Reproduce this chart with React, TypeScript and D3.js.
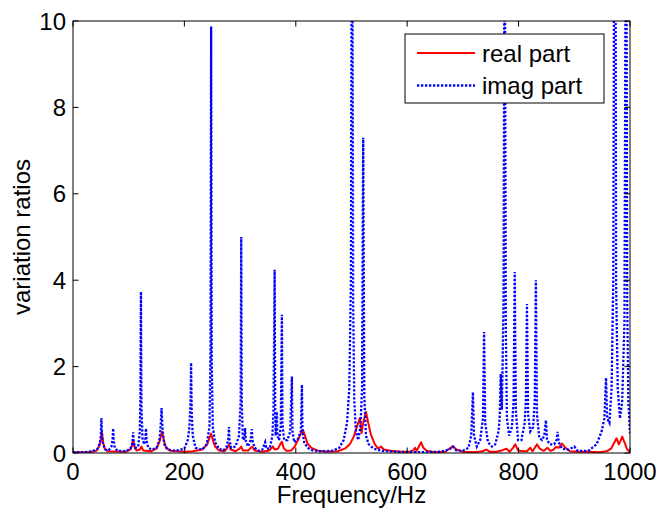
import React from 'react';
import * as d3 from 'd3';

const xTicks = [0, 200, 400, 600, 800, 1000];
const yTicks = [0, 2, 4, 6, 8, 10];
const legendLabels = ['real part', 'imag part'];
const xLabel = 'Frequency/Hz';
const yLabel = 'variation ratios';

// real part: [frequency Hz, value]
const realSeries: [number, number][] = [
  [0, 0.02], [30, 0.02], [42, 0.05], [47, 0.15], [50, 0.3], [52, 0.49], [54, 0.25], [57, 0.1], [62, 0.04],
  [95, 0.03], [103, 0.08], [106, 0.18], [108, 0.3], [110, 0.15], [114, 0.06], [120, 0.08], [123, 0.15], [126, 0.06],
  [140, 0.04], [150, 0.1], [155, 0.25], [158, 0.4], [160, 0.49], [163, 0.3], [167, 0.12], [175, 0.05],
  [200, 0.03], [215, 0.04], [232, 0.08], [241, 0.2], [245, 0.35], [248, 0.45], [251, 0.3], [255, 0.15], [262, 0.06],
  [272, 0.04], [277, 0.12], [280, 0.2], [283, 0.08], [292, 0.04], [299, 0.1], [302, 0.15], [305, 0.06],
  [315, 0.06], [319, 0.12], [322, 0.14], [326, 0.06], [340, 0.03], [352, 0.06], [357, 0.12], [359, 0.15], [362, 0.08],
  [368, 0.1], [372, 0.2], [375, 0.26], [378, 0.12], [383, 0.05], [392, 0.06], [398, 0.15], [404, 0.3], [409, 0.45],
  [413, 0.53], [416, 0.42], [421, 0.22], [428, 0.12], [438, 0.06], [455, 0.03], [475, 0.04], [488, 0.1],
  [497, 0.2], [504, 0.38], [510, 0.62], [515, 0.81], [518, 0.46], [521, 0.7], [526, 0.95], [530, 0.7],
  [535, 0.42], [542, 0.2], [548, 0.1], [553, 0.15], [558, 0.08], [570, 0.05], [590, 0.03], [605, 0.03],
  [611, 0.06], [614, 0.12], [617, 0.05], [621, 0.15], [625, 0.25], [629, 0.12], [635, 0.05], [650, 0.02],
  [668, 0.03], [676, 0.1], [682, 0.16], [688, 0.08], [700, 0.03], [720, 0.02], [735, 0.04], [742, 0.08],
  [748, 0.03], [760, 0.03], [770, 0.06], [778, 0.1], [784, 0.03], [790, 0.12], [794, 0.2], [799, 0.06],
  [808, 0.04], [815, 0.04], [821, 0.12], [825, 0.04], [830, 0.14], [833, 0.2], [838, 0.1], [845, 0.05],
  [852, 0.12], [857, 0.05], [863, 0.08], [867, 0.14], [872, 0.12], [878, 0.22], [884, 0.12], [892, 0.04],
  [905, 0.03], [925, 0.03], [945, 0.02], [958, 0.04], [966, 0.1], [971, 0.22], [976, 0.34], [980, 0.2],
  [983, 0.28], [986, 0.38], [990, 0.25], [995, 0.08], [1000, 0.02],
];

// imag part: [frequency Hz, value]
const imagSeries: [number, number][] = [
  [0, 0.02], [20, 0.02], [35, 0.04], [44, 0.1], [48, 0.22], [50, 0.4], [51, 0.81], [52, 0.4], [54, 0.2], [58, 0.08],
  [64, 0.06], [69, 0.15], [71, 0.3], [72, 0.57], [73, 0.3], [75, 0.12], [80, 0.05], [95, 0.04], [103, 0.1],
  [106, 0.2], [107, 0.3], [108, 0.48], [109, 0.25], [112, 0.12], [117, 0.15], [120, 0.5], [121, 1.2], [122, 3.73],
  [123, 1.0], [125, 0.3], [128, 0.2], [130, 0.35], [131, 0.57], [132, 0.3], [135, 0.12], [142, 0.08], [150, 0.12],
  [155, 0.3], [157, 0.55], [159, 1.04], [161, 0.5], [164, 0.2], [170, 0.08], [185, 0.05], [200, 0.1], [206, 0.3],
  [209, 0.6], [211, 1.2], [212, 2.09], [213, 1.0], [215, 0.4], [220, 0.12], [232, 0.08], [240, 0.2], [245, 0.6],
  [247, 2.5], [248, 9.87], [249, 2.2], [251, 0.6], [255, 0.25], [262, 0.1], [270, 0.06], [276, 0.15], [279, 0.35],
  [280, 0.6], [281, 0.3], [284, 0.12], [292, 0.15], [298, 0.4], [301, 1.2], [302, 5.0], [303, 1.2], [305, 0.3],
  [308, 0.35], [309, 0.58], [310, 0.3], [314, 0.15], [319, 0.3], [321, 0.55], [322, 0.3], [326, 0.12], [334, 0.05],
  [340, 0.08], [345, 0.25], [347, 0.1], [353, 0.1], [358, 0.4], [360, 1.0], [362, 4.24], [363, 1.0], [364, 0.4],
  [365, 0.7], [366, 0.95], [367, 0.4], [370, 0.3], [373, 0.6], [375, 3.2], [376, 0.7], [379, 0.3], [385, 0.3],
  [390, 0.5], [393, 1.77], [394, 0.5], [397, 0.25], [403, 0.3], [409, 0.5], [411, 1.58], [412, 0.5], [415, 0.25],
  [421, 0.12], [430, 0.06], [445, 0.04], [465, 0.05], [478, 0.12], [486, 0.3], [492, 0.7], [496, 1.5], [499, 4.0],
  [501, 16], [503, 3.5], [505, 1.2], [508, 0.5], [512, 0.3], [516, 0.6], [519, 1.5], [521, 7.3], [523, 1.3],
  [526, 0.4], [531, 0.2], [540, 0.1], [555, 0.05], [580, 0.03], [620, 0.02], [660, 0.03], [676, 0.08], [682, 0.15],
  [688, 0.06], [700, 0.05], [710, 0.12], [715, 0.4], [718, 1.41], [720, 0.4], [725, 0.15], [731, 0.3], [736, 0.8],
  [738, 2.8], [740, 0.7], [745, 0.25], [752, 0.15], [758, 0.2], [764, 0.5], [766, 0.8], [768, 1.83], [770, 1.0],
  [773, 3.5], [775, 14], [777, 3.0], [779, 0.8], [783, 0.4], [788, 0.6], [791, 1.2], [793, 4.19], [795, 1.0],
  [799, 0.3], [805, 0.3], [811, 0.7], [813, 1.2], [815, 3.45], [817, 0.9], [821, 0.5], [826, 0.6], [829, 1.2],
  [831, 4.0], [833, 0.9], [837, 0.35], [842, 0.3], [846, 0.4], [849, 0.76], [851, 0.3], [856, 0.2], [864, 0.2],
  [868, 0.3], [870, 0.49], [872, 0.25], [878, 0.1], [890, 0.08], [900, 0.15], [906, 0.05], [925, 0.05], [940, 0.2],
  [949, 0.5], [954, 0.8], [957, 1.74], [959, 0.8], [963, 0.7], [967, 1.5], [970, 4], [973, 20], [975, 4],
  [978, 1.5], [982, 0.8], [986, 1.2], [990, 3], [993, 15], [995, 3.5], [997, 1.2], [1000, 0.45],
];

export default function App() {
  const W = 658, H = 509;
  const left = 73, right = 630, top = 21, bottom = 453;
  const x = d3.scaleLinear().domain([0, 1000]).range([left, right]);
  const y = d3.scaleLinear().domain([0, 10]).range([bottom, top]);
  const line = d3.line<[number, number]>().x(d => x(d[0])).y(d => y(d[1]));
  const font = '"Liberation Sans", Arial, Helvetica, sans-serif';
  const tick = 5.5;

  return (
    <svg width={W} height={H} style={{ position: 'absolute', left: 0, top: 0, background: '#fff' }}
      fontFamily={font}>
      <rect x={0} y={0} width={W} height={H} fill="#fff" />
      <defs>
        <clipPath id="plotClip">
          <rect x={left} y={top} width={right - left} height={bottom - top} />
        </clipPath>
      </defs>
      <g clipPath="url(#plotClip)">
        <path d={line(realSeries) || ''} fill="none" stroke="#ff0000" strokeWidth={2} strokeLinejoin="round" />
        <path d={line(imagSeries) || ''} fill="none" stroke="#0000ff" strokeWidth={2.3} strokeDasharray="2.3 1.7" />
      </g>
      <rect x={left} y={top} width={right - left} height={bottom - top} fill="none" stroke="#000" strokeWidth={1} />
      {xTicks.map(t => (
        <g key={'x' + t}>
          <line x1={x(t)} x2={x(t)} y1={bottom} y2={bottom - tick} stroke="#000" />
          <line x1={x(t)} x2={x(t)} y1={top} y2={top + tick} stroke="#000" />
          <text x={x(t)} y={480} fontSize={24} textAnchor="middle">{t}</text>
        </g>
      ))}
      {yTicks.map(t => (
        <g key={'y' + t}>
          <line x1={left} x2={left + tick} y1={y(t)} y2={y(t)} stroke="#000" />
          <line x1={right} x2={right - tick} y1={y(t)} y2={y(t)} stroke="#000" />
          <text x={66} y={y(t) + 8.5} fontSize={24} textAnchor="end">{t}</text>
        </g>
      ))}
      <text x={(left + right) / 2} y={503} fontSize={24} textAnchor="middle">{xLabel}</text>
      <text transform={`translate(30,${(top + bottom) / 2}) rotate(-90)`} fontSize={24} textAnchor="middle">{yLabel}</text>
      <g>
        <rect x={405} y={34} width={199} height={69} fill="#fff" stroke="#000" strokeWidth={1} />
        <line x1={417} x2={475} y1={53} y2={53} stroke="#ff0000" strokeWidth={2} />
        <line x1={417} x2={475} y1={85.5} y2={85.5} stroke="#0000ff" strokeWidth={2.3} strokeDasharray="2.3 1.7" />
        <text x={482} y={62} fontSize={24}>{legendLabels[0]}</text>
        <text x={482} y={94} fontSize={24}>{legendLabels[1]}</text>
      </g>
    </svg>
  );
}
